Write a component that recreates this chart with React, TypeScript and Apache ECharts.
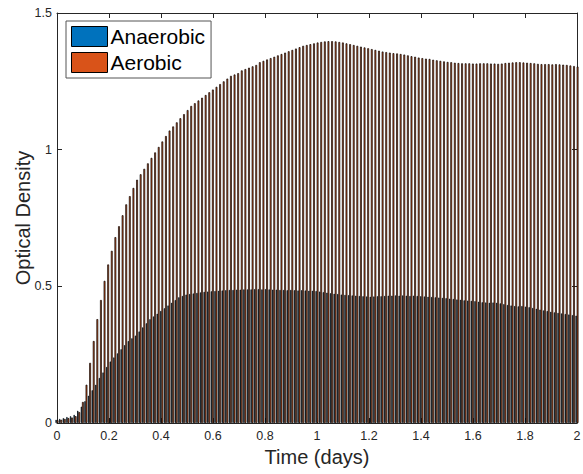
import React, { useEffect, useRef } from "react";
import * as echarts from "echarts";

// Sampling times (minutes since start), every 20 minutes over 2 days
const timeMin = [
  0, 20, 40, 60, 80, 100, 120, 140, 160, 180, 200, 220, 240, 260, 280, 300, 320, 340, 360, 380,
  400, 420, 440, 460, 480, 500, 520, 540, 560, 580, 600, 620, 640, 660, 680, 700, 720, 740, 760, 780,
  800, 820, 840, 860, 880, 900, 920, 940, 960, 980, 1000, 1020, 1040, 1060, 1080, 1100, 1120, 1140, 1160, 1180,
  1200, 1220, 1240, 1260, 1280, 1300, 1320, 1340, 1360, 1380, 1400, 1420, 1440, 1460, 1480, 1500, 1520, 1540, 1560, 1580,
  1600, 1620, 1640, 1660, 1680, 1700, 1720, 1740, 1760, 1780, 1800, 1820, 1840, 1860, 1880, 1900, 1920, 1940, 1960, 1980,
  2000, 2020, 2040, 2060, 2080, 2100, 2120, 2140, 2160, 2180, 2200, 2220, 2240, 2260, 2280, 2300, 2320, 2340, 2360, 2380,
  2400, 2420, 2440, 2460, 2480, 2500, 2520, 2540, 2560, 2580, 2600, 2620, 2640, 2660, 2680, 2700, 2720, 2740, 2760, 2780,
  2800, 2820, 2840, 2860, 2880,
];

const anaerobic = [
  0.012, 0.015, 0.018, 0.022, 0.025, 0.03, 0.045, 0.06, 0.08, 0.1,
  0.12, 0.14, 0.165, 0.185, 0.205, 0.225, 0.24, 0.255, 0.27, 0.285,
  0.3, 0.31, 0.32, 0.335, 0.35, 0.365, 0.38, 0.39, 0.4, 0.41,
  0.42, 0.43, 0.44, 0.45, 0.46, 0.465, 0.47, 0.472, 0.474, 0.476,
  0.478, 0.48, 0.481, 0.482, 0.483, 0.484, 0.485, 0.486, 0.487, 0.487,
  0.488, 0.488, 0.489, 0.489, 0.489, 0.49, 0.49, 0.489, 0.49, 0.489,
  0.488, 0.488, 0.487, 0.487, 0.486, 0.487, 0.486, 0.485, 0.486, 0.485,
  0.484, 0.484, 0.483, 0.481, 0.479, 0.477, 0.475, 0.473, 0.472, 0.47,
  0.469, 0.468, 0.467, 0.466, 0.465, 0.464, 0.463, 0.462, 0.463, 0.464,
  0.464, 0.465, 0.466, 0.466, 0.467, 0.466, 0.467, 0.466, 0.465, 0.466,
  0.465, 0.464, 0.463, 0.462, 0.461, 0.46, 0.459, 0.458, 0.457, 0.455,
  0.454, 0.452, 0.451, 0.449, 0.448, 0.447, 0.446, 0.444, 0.442, 0.441,
  0.44, 0.441, 0.44, 0.438, 0.435, 0.432, 0.43, 0.428, 0.427, 0.428,
  0.426, 0.424, 0.421, 0.418, 0.415, 0.412, 0.41, 0.407, 0.405, 0.403,
  0.401, 0.399, 0.397, 0.395, 0.393,
];

const aerobic = [
  0.01, 0.012, 0.015, 0.018, 0.02, 0.025, 0.04, 0.077, 0.14, 0.22,
  0.3, 0.38, 0.45, 0.52, 0.58, 0.63, 0.68, 0.72, 0.76, 0.8,
  0.83, 0.86, 0.89, 0.91, 0.93, 0.95, 0.97, 0.99, 1.01, 1.03,
  1.05, 1.07, 1.085, 1.1, 1.115, 1.13, 1.145, 1.16, 1.17, 1.18,
  1.19, 1.2, 1.21, 1.22, 1.23, 1.24, 1.25, 1.26, 1.27, 1.275,
  1.28, 1.29, 1.295, 1.3, 1.305, 1.31, 1.32, 1.325, 1.33, 1.335,
  1.34, 1.345, 1.35, 1.355, 1.36, 1.365, 1.37, 1.375, 1.38, 1.383,
  1.386, 1.389, 1.392, 1.394, 1.396, 1.397, 1.397, 1.396, 1.394, 1.392,
  1.389, 1.386, 1.383, 1.38, 1.377, 1.374, 1.371, 1.368, 1.365, 1.362,
  1.359, 1.357, 1.355, 1.353, 1.352, 1.35, 1.348, 1.345, 1.342, 1.34,
  1.337, 1.335, 1.333, 1.332, 1.329, 1.327, 1.325, 1.323, 1.321, 1.32,
  1.318, 1.317, 1.316, 1.316, 1.316, 1.315, 1.315, 1.316, 1.316, 1.316,
  1.315, 1.315, 1.314, 1.315, 1.317, 1.318, 1.319, 1.32, 1.32, 1.319,
  1.318, 1.317, 1.316, 1.314, 1.313, 1.313, 1.313, 1.312, 1.313, 1.312,
  1.311, 1.31, 1.308, 1.306, 1.304,
];

const xTicks = { min: 0, max: 2, interval: 0.2 };
const yTicks = { min: 0, max: 1.5, interval: 0.5 };

const FONT = "'Liberation Sans', Arial, Helvetica, sans-serif";
const AXIS = "#262626";

export default function App() {
  const ref = useRef<HTMLDivElement>(null);
  useEffect(() => {
    if (!ref.current) return;
    const chart = echarts.init(ref.current, undefined, { renderer: "svg" });
    const toPairs = (vals: number[]) => timeMin.map((m, i) => [m / 1440, vals[i]]);
    const axisCommon = {
      axisLine: { show: true, onZero: false, lineStyle: { color: AXIS, width: 1 } },
      axisTick: { show: true, inside: true, length: 5, lineStyle: { color: AXIS } },
      splitLine: { show: false },
    };
    chart.setOption({
      animation: false,
      textStyle: { fontFamily: FONT },
      grid: { left: 57, right: 6, top: 13, bottom: 51, containLabel: false, outerBoundsMode: "none" },
      legend: {
        orient: "vertical",
        left: 66,
        top: 21,
        padding: [5, 6, 5, 5],
        itemGap: 5,
        itemWidth: 36,
        itemHeight: 20,
        icon: "rect",
        backgroundColor: "#fff",
        borderColor: "#555",
        borderWidth: 1,
        borderRadius: 0,
        textStyle: { fontSize: 21, color: "#000", fontFamily: FONT, padding: [0, 0, 0, -2] },
        itemStyle: { borderColor: "#000", borderWidth: 1 },
        data: ["Anaerobic", "Aerobic"],
      },
      xAxis: [
        {
          type: "value",
          position: "bottom",
          ...xTicks,
          ...axisCommon,
          axisLabel: { fontSize: 12.5, color: AXIS, margin: 6, fontFamily: FONT },
          name: "Time (days)",
          nameLocation: "middle",
          nameGap: 24,
          nameMoveOverlap: false,
          nameTextStyle: { fontSize: 20, color: AXIS, fontFamily: FONT },
        },
        {
          type: "value",
          position: "top",
          ...xTicks,
          ...axisCommon,
          axisLabel: { show: false },
        },
      ],
      yAxis: [
        {
          type: "value",
          position: "left",
          ...yTicks,
          ...axisCommon,
          axisLabel: { fontSize: 12.5, color: AXIS, margin: 5, fontFamily: FONT },
          name: "Optical Density",
          nameLocation: "middle",
          nameGap: 24,
          nameMoveOverlap: false,
          nameTextStyle: { fontSize: 20, color: AXIS, fontFamily: FONT },
        },
        {
          type: "value",
          position: "right",
          ...yTicks,
          ...axisCommon,
          axisLabel: { show: false },
        },
      ],
      series: [
        {
          name: "Anaerobic",
          type: "bar",
          xAxisIndex: 0,
          yAxisIndex: 0,
          barWidth: 1.2,
          barGap: "0%",
          itemStyle: { color: "#0072BD", borderColor: "#000", borderWidth: 0.7 },
          data: toPairs(anaerobic),
        },
        {
          name: "Aerobic",
          type: "bar",
          xAxisIndex: 0,
          yAxisIndex: 0,
          barWidth: 1.8,
          barGap: "0%",
          itemStyle: { color: "#D95319", borderColor: "#000", borderWidth: 0.7 },
          data: toPairs(aerobic),
        },
      ],
    });
    return () => chart.dispose();
  }, []);
  return (
    <div
      ref={ref}
      style={{ position: "absolute", left: 0, top: 0, width: 583, height: 474, background: "#fff" }}
    />
  );
}
